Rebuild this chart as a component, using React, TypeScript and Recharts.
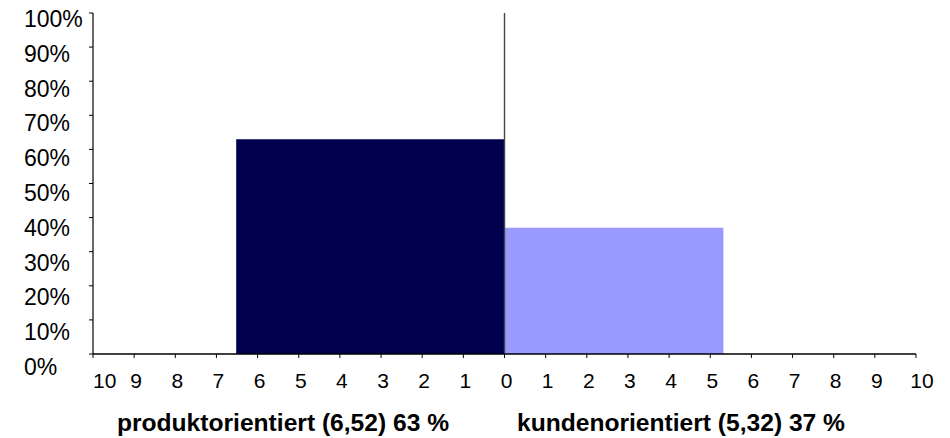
import React from "react";
import {
  ComposedChart,
  Area,
  XAxis,
  YAxis,
  ReferenceLine,
} from "recharts";

// Anteile der Orientierung: Breite = Mittelwert auf der Skala, Höhe = Prozentanteil
const positions = [-6.52, 0, 5.32];
const produktValues: (number | null)[] = [63, 63, null];
const kundenValues: (number | null)[] = [null, 37, 37];

const xTicks = [-10, -9, -8, -7, -6, -5, -4, -3, -2, -1, 0, 1, 2, 3, 4, 5, 6, 7, 8, 9, 10];
const yTicks = [0, 10, 20, 30, 40, 50, 60, 70, 80, 90, 100];

const titleLeft = "produktorientiert (6,52) 63 %";
const titleRight = "kundenorientiert (5,32) 37 %";

const data = positions.map((x, i) => ({
  x,
  produkt: produktValues[i],
  kunden: kundenValues[i],
}));

const FONT = "'Liberation Sans', Arial, Helvetica, sans-serif";

const YTick = (props: any) => {
  const { y, payload } = props;
  const v = payload.value as number;
  const offset = 6 + (1 - v / 100) * 7;
  return (
    <text
      x={24}
      y={y + offset}
      dy="0.35em"
      textAnchor="start"
      fontFamily={FONT}
      fontSize={23}
      fill="#000"
    >
      {`${v}%`}
    </text>
  );
};

const XTick = (props: any) => {
  const { x, payload } = props;
  const v = payload.value as number;
  let anchor: "start" | "middle" = "middle";
  let px = x + 2;
  if (v === -10) {
    anchor = "start";
    px = x;
  } else if (v === 10) {
    px = x + 6;
  }
  return (
    <text
      x={px}
      y={381}
      dy="0.35em"
      textAnchor={anchor}
      fontFamily={FONT}
      fontSize={21}
      fill="#000"
    >
      {Math.abs(v)}
    </text>
  );
};

export default function App() {
  return (
    <div style={{ position: "absolute", left: 0, top: 0, width: 950, height: 438, background: "#fff" }}>
      <ComposedChart
        width={950}
        height={438}
        data={data}
        margin={{ top: 13, right: 34, bottom: 44, left: 0 }}
      >
        <XAxis
          dataKey="x"
          type="number"
          domain={[-10, 10]}
          ticks={xTicks}
          interval={0}
          height={40}
          axisLine={{ stroke: "#000", strokeWidth: 1.5 }}
          tickLine={{ stroke: "#000" }}
          tickSize={4}
          tick={<XTick />}
        />
        <YAxis
          type="number"
          domain={[0, 100]}
          ticks={yTicks}
          interval={0}
          width={93}
          axisLine={{ stroke: "#000", strokeWidth: 1.2 }}
          tickLine={{ stroke: "#000" }}
          tickSize={4}
          tick={<YTick />}
        />
        <Area
          type="linear"
          dataKey="produkt"
          stroke="none"
          fill="#00004f"
          fillOpacity={1}
          dot={false}
          activeDot={false}
          isAnimationActive={false}
        />
        <Area
          type="linear"
          dataKey="kunden"
          stroke="none"
          fill="#9999ff"
          fillOpacity={1}
          dot={false}
          activeDot={false}
          isAnimationActive={false}
        />
        <ReferenceLine x={0} stroke="#444" strokeWidth={1.4} />
      </ComposedChart>
      <svg
        width={950}
        height={438}
        style={{ position: "absolute", left: 0, top: 0, pointerEvents: "none" }}
      >
        <text x={283} y={431} textAnchor="middle" fontFamily={FONT} fontWeight="bold" fontSize={24.6} fill="#000">
          {titleLeft}
        </text>
        <text x={681} y={431} textAnchor="middle" fontFamily={FONT} fontWeight="bold" fontSize={24.6} fill="#000">
          {titleRight}
        </text>
      </svg>
    </div>
  );
}
